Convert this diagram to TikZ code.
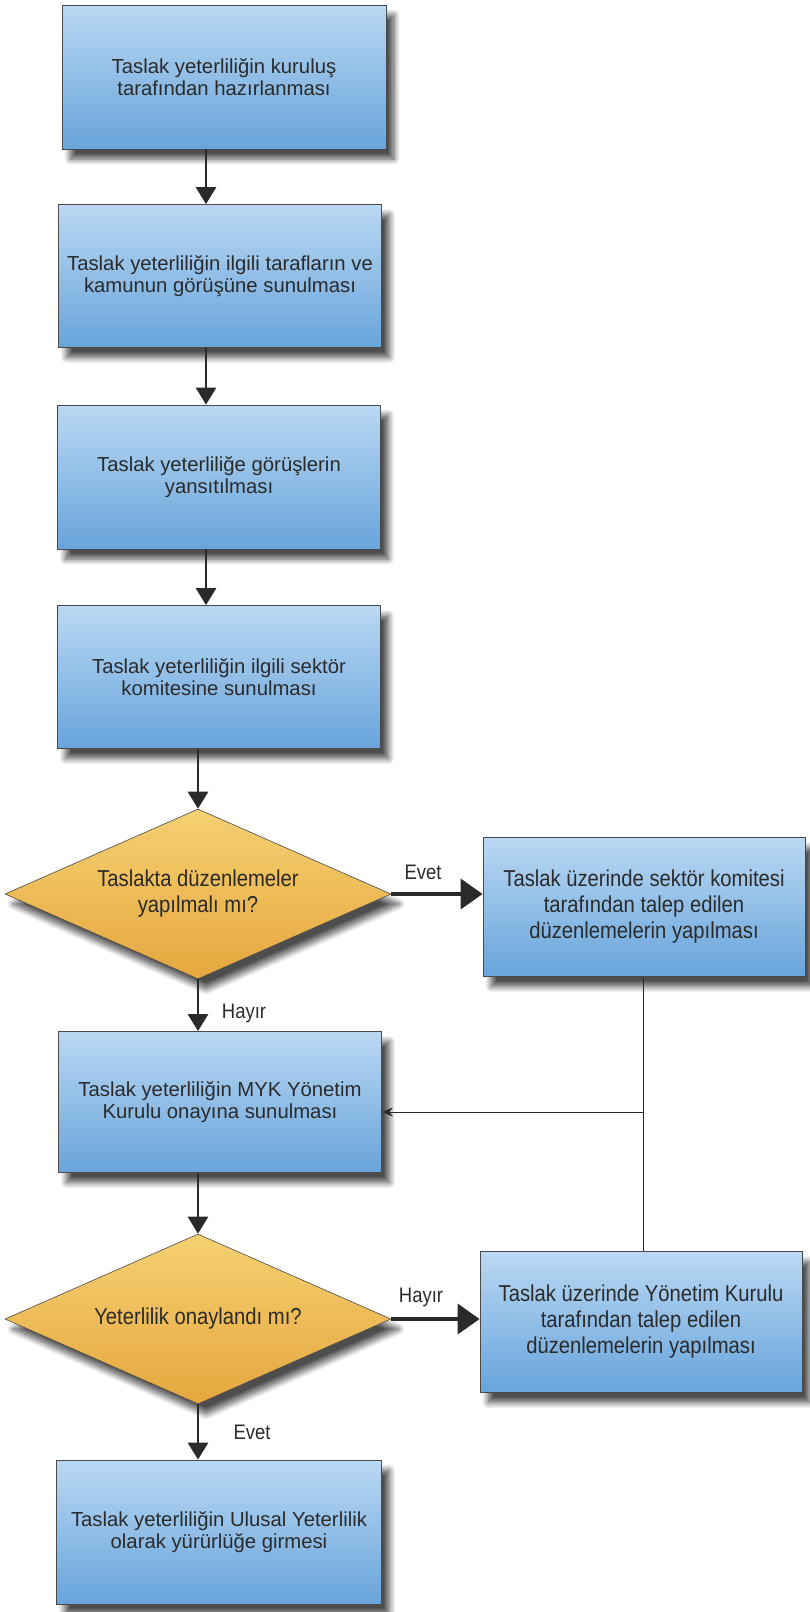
\documentclass[tikz,border=0pt]{standalone}
\usepackage{fontspec}
\setmainfont{Liberation Sans}
\newfontfamily\narrowsans[FakeStretch=0.88]{Liberation Sans}
\usetikzlibrary{shapes.geometric,arrows.meta,shadows.blur}

\definecolor{boxtop}{HTML}{BAD8F3}
\definecolor{boxbottom}{HTML}{68A4DB}
\definecolor{dectop}{HTML}{F5D072}
\definecolor{decbottom}{HTML}{E6A73E}
\definecolor{edgegray}{HTML}{4A4A4A}
\definecolor{textgray}{HTML}{2B2B2B}
\definecolor{arrowgray}{HTML}{2A2A2A}

\tikzset{
  x=1pt, y=-1pt,
  softshadow/.style={blur shadow={shadow xshift=8pt, shadow yshift=-10pt,
      shadow blur steps=10, shadow blur radius=6pt, shadow opacity=70}},
  procbox/.style={draw=edgegray, line width=0.8pt, top color=boxtop,
      bottom color=boxbottom, minimum width=323pt, minimum height=143pt,
      inner sep=4pt, align=center, text=textgray,
      font=\fontsize{20.3}{22.5}\selectfont, softshadow},
  sidebox/.style={procbox, minimum width=322pt, minimum height=140pt,
      font=\narrowsans\fontsize{23}{26}\selectfont},
  decision/.style={diamond, aspect=2.27, draw=edgegray, line width=0.6pt,
      top color=dectop, bottom color=decbottom, minimum width=386pt,
      minimum height=170pt, inner sep=0pt, align=center, text=textgray,
      font=\narrowsans\fontsize{23}{26}\selectfont, softshadow},
  flow/.style={draw=arrowgray, line width=2.8pt,
      -{Triangle[width=20pt,length=17pt]}},
  sideflow/.style={draw=arrowgray, line width=4pt,
      -{Triangle[width=30pt,length=22pt]}},
  feedback/.style={draw=arrowgray, line width=1pt,
      -{Stealth[length=11pt,width=9pt]}},
  feedline/.style={draw=arrowgray, line width=1pt},
  lbl/.style={text=textgray, font=\narrowsans\fontsize{21}{24}\selectfont}
}

\begin{document}
\begin{tikzpicture}
  \useasboundingbox (0,0) rectangle (810,1612);

  % main column of steps
  \node[procbox, minimum width=324pt, minimum height=144pt] (s1) at (224,77)
    {Taslak yeterliliğin kuruluş\\tarafından hazırlanması};
  \node[procbox] (s2) at (220,276)
    {Taslak yeterliliğin ilgili tarafların ve\\kamunun görüşüne sunulması};
  \node[procbox, minimum height=144pt] (s3) at (219,477)
    {Taslak yeterliliğe görüşlerin\\yansıtılması};
  \node[procbox, minimum height=143pt] (s4) at (219,677)
    {Taslak yeterliliğin ilgili sektör\\komitesine sunulması};
  \node[decision] (d1) at (198,894)
    {Taslakta düzenlemeler\\yapılmalı mı?};
  \node[procbox, minimum height=141pt] (s5) at (220,1102)
    {Taslak yeterliliğin MYK Yönetim\\Kurulu onayına sunulması};
  \node[decision] (d2) at (198,1319)
    {Yeterlilik onaylandı mı?};
  \node[procbox, minimum width=325pt, minimum height=144pt] (s6) at (219,1532)
    {Taslak yeterliliğin Ulusal Yeterlilik\\olarak yürürlüğe girmesi};

  % revision steps on the right
  \node[sidebox, minimum height=139pt] (r1) at (644,907)
    {Taslak üzerinde sektör komitesi\\tarafından talep edilen\\düzenlemelerin yapılması};
  \node[sidebox, minimum height=141pt] (r2) at (641,1322)
    {Taslak üzerinde Yönetim Kurulu\\tarafından talep edilen\\düzenlemelerin yapılması};

  % vertical flow
  \coordinate (ax) at (206,0);
  \draw[flow] (s1.south -| ax) -- (s2.north -| ax);
  \draw[flow] (s2.south -| ax) -- (s3.north -| ax);
  \draw[flow] (s3.south -| ax) -- (s4.north -| ax);
  \draw[flow] (s4.south -| d1.north) -- (d1.north);
  \draw[flow] (d1.south) -- (s5.north -| d1.south);
  \draw[flow] (s5.south -| d2.north) -- (d2.north);
  \draw[flow] (d2.south) -- (s6.north -| d2.south);

  % branches to the right
  \draw[sideflow] (d1.east) -- (r1.west |- d1.east);
  \draw[sideflow] (d2.east) -- (r2.west |- d2.east);

  % return path to the approval step
  \coordinate (fb) at (643,1112);
  \draw[feedline] (r1.south -| fb) -- (r2.north -| fb);
  \draw[feedback] (fb) -- (s5.east |- fb);

  % branch labels
  \node[lbl] (l1) at (423,872) {Evet};
  \node[lbl] (l2) at (244,1013) {Hayır};
  \node[lbl] (l3) at (421,1297) {Hayır};
  \node[lbl] (l4) at (252,1432) {Evet};
\end{tikzpicture}
\end{document}
